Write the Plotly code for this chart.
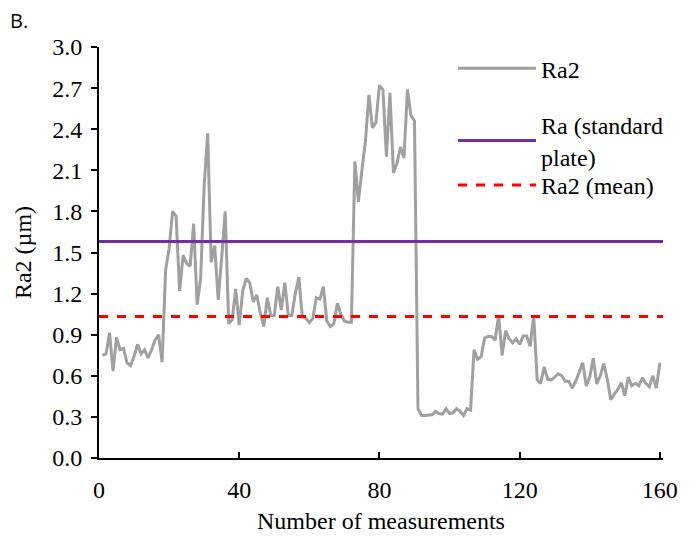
import plotly.graph_objects as go
import numpy as np

# ---- data ----
ra2 = [
    0.75, 0.76, 0.915, 0.635, 0.88, 0.79, 0.80, 0.695, 0.675, 0.74,
    0.83, 0.76, 0.79, 0.73, 0.79, 0.86, 0.90, 0.70, 1.37, 1.53,
    1.80, 1.765, 1.22, 1.48, 1.42, 1.40, 1.71, 1.12, 1.31, 1.99,
    2.37, 1.43, 1.55, 1.155, 1.46, 1.80, 0.98, 1.01, 1.235, 0.97,
    1.22, 1.31, 1.28, 1.14, 1.19, 1.06, 0.96, 1.17, 1.04, 1.04,
    1.25, 1.08, 1.28, 1.04, 1.04, 1.20, 1.32, 1.03, 1.02, 0.99,
    1.02, 1.17, 1.16, 1.25, 1.00, 0.96, 0.98, 1.13, 1.05, 1.00,
    0.99, 0.99, 2.165, 1.87, 2.10, 2.31, 2.65, 2.41, 2.45, 2.72,
    2.69, 2.20, 2.665, 2.08, 2.15, 2.27, 2.19, 2.69, 2.50, 2.46,
    0.36, 0.31, 0.31, 0.31, 0.315, 0.34, 0.325, 0.32, 0.36, 0.325,
    0.33, 0.36, 0.34, 0.31, 0.36, 0.35, 0.79, 0.72, 0.74, 0.875,
    0.887, 0.887, 0.86, 1.04, 0.75, 0.93, 0.87, 0.84, 0.87, 0.83,
    0.89, 0.89, 0.815, 1.04, 0.57, 0.545, 0.665, 0.575, 0.57, 0.59,
    0.615, 0.60, 0.56, 0.56, 0.51, 0.56, 0.635, 0.695, 0.525, 0.59,
    0.73, 0.54, 0.60, 0.69, 0.575, 0.425, 0.466, 0.50, 0.55, 0.455,
    0.59, 0.527, 0.545, 0.527, 0.585, 0.545, 0.52, 0.60, 0.51, 0.695,
]
measurement = list(range(1, len(ra2) + 1))
ra_standard = 1.58
ra2_mean = float(np.mean(ra2))

x_range = [0, 160.9]
x_ticks = [0, 40, 80, 120, 160]
y_ticks = [0.0, 0.3, 0.6, 0.9, 1.2, 1.5, 1.8, 2.1, 2.4, 2.7, 3.0]

serif = "Liberation Serif"
FS = 24

fig = go.Figure()
fig.add_trace(go.Scatter(
    x=measurement, y=ra2, mode="lines", name="Ra2",
    line=dict(color="#A0A0A0", width=3), legend="legend",
))
fig.add_trace(go.Scatter(
    x=x_range, y=[ra_standard, ra_standard], mode="lines",
    name="Ra (standard<br>plate)",
    line=dict(color="#7030A0", width=3), legend="legend2",
))
fig.add_trace(go.Scatter(
    x=x_range, y=[ra2_mean, ra2_mean], mode="lines", name="Ra2 (mean)",
    line=dict(color="#FF0000", width=3, dash="dash"), legend="legend3",
))

leg_x = (453 - 99) / 564
leg_common = dict(
    font=dict(family=serif, size=FS, color="black"),
    bgcolor="rgba(0,0,0,0)", borderwidth=0,
    xanchor="left", yanchor="middle", itemwidth=78,
)

fig.update_layout(
    width=690, height=542,
    margin=dict(l=99, r=27, t=47, b=79),
    paper_bgcolor="white", plot_bgcolor="white",
    showlegend=True,
    legend=dict(x=leg_x, y=(463 - 69) / 416, **leg_common),
    legend2=dict(x=leg_x, y=(463 - 142) / 416, **leg_common),
    legend3=dict(x=leg_x, y=(463 - 187) / 416, **leg_common),
    xaxis=dict(
        range=x_range, tickvals=x_ticks, ticktext=[str(v) for v in x_ticks],
        showgrid=False, zeroline=False, showline=True,
        linecolor="black", linewidth=2, ticks="inside", ticklen=6,
        tickwidth=2, tickcolor="black", ticklabelstandoff=9,
        tickfont=dict(family=serif, size=FS, color="black"),
        title=dict(text="Number of measurements", standoff=10,
                   font=dict(family=serif, size=FS, color="black")),
    ),
    yaxis=dict(
        range=[0, 3.0], tickvals=y_ticks,
        ticktext=[f"{v:.1f}" for v in y_ticks],
        showgrid=False, zeroline=False, showline=True,
        linecolor="black", linewidth=2, ticks="outside", ticklen=6,
        tickwidth=2, tickcolor="black", ticklabelstandoff=4,
        tickfont=dict(family=serif, size=FS, color="black"),
        title=dict(text="Ra2 (µm)", standoff=14,
                   font=dict(family=serif, size=FS, color="black")),
    ),
    annotations=[dict(
        text="B.", xref="paper", yref="paper", x=-91 / 564, y=1 + 27 / 416,
        xanchor="left", yanchor="middle", showarrow=False,
        font=dict(family="Open Sans", size=20, color="black"),
    )],
)

fig.write_html("out.html")
